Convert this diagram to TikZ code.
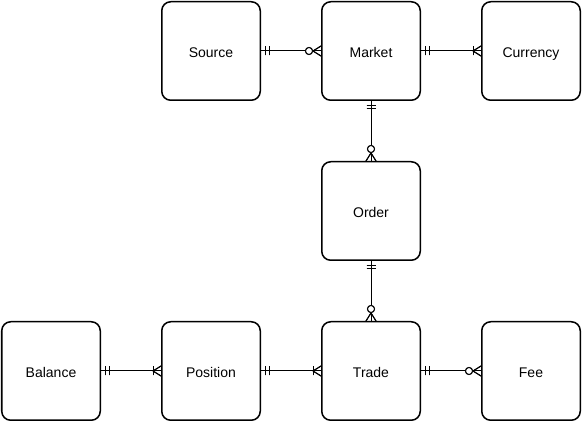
\documentclass[tikz,border=0pt]{standalone}
\usepackage{fontspec}
\setmainfont{Liberation Sans}
\usetikzlibrary{decorations.markings}

\begin{document}
\begin{tikzpicture}[
    x=1pt, y=1pt,
    entity/.style={rectangle, draw, line width=1.5pt, fill=white, rounded corners=9pt,
        minimum width=98.5pt, minimum height=98.5pt, text height=13pt, text depth=0pt,
        font=\fontsize{14}{16}\selectfont},
    rel/.style={draw, line width=1pt},
    onestart/.style={postaction={decorate}, decoration={markings,
        mark=at position 4.5pt with {\draw[line width=1pt] (0,-4.5) -- (0,4.5);},
        mark=at position 8pt with {\draw[line width=1pt] (0,-4.5) -- (0,4.5);}}},
    zmanyend/.style={postaction={decorate}, decoration={markings,
        mark=at position 1 with {
            \draw[line width=1pt] (-8,0) -- (0,5) (-8,0) -- (0,-5);
            \draw[line width=1pt, fill=white] (-12,0) circle (3.5);}}},
    omanyend/.style={postaction={decorate}, decoration={markings,
        mark=at position 1 with {
            \draw[line width=1pt] (-8,0) -- (0,5) (-8,0) -- (0,-5);
            \draw[line width=1pt] (-8,-4.5) -- (-8,4.5);}}}
]

\useasboundingbox (0,0) rectangle (582,-422);

% Top row
\node[entity] (source) at (211,-51) {Source};
\node[entity] (market) at (371,-51) {Market};
\node[entity] (currency) at (531,-51) {Currency};

% Middle
\node[entity] (order) at (371,-211) {Order};

% Bottom row
\node[entity] (balance) at (51,-371) {Balance};
\node[entity] (position) at (211,-371) {Position};
\node[entity] (trade) at (371,-371) {Trade};
\node[entity] (fee) at (531,-371) {Fee};

% Relations
\draw[rel, onestart, zmanyend] (source) -- (market);
\draw[rel, onestart, omanyend] (market) -- (currency);
\draw[rel, onestart, zmanyend] (market) -- (order);
\draw[rel, onestart, zmanyend] (order) -- (trade);
\draw[rel, onestart, omanyend] (balance) -- (position);
\draw[rel, onestart, omanyend] (position) -- (trade);
\draw[rel, onestart, zmanyend] (trade) -- (fee);

\end{tikzpicture}
\end{document}
